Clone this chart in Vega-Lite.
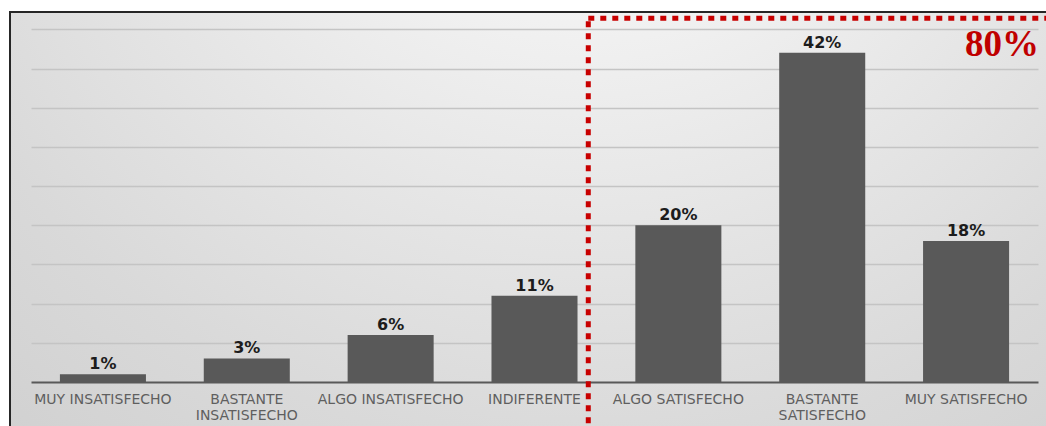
{
  "$schema": "https://vega.github.io/schema/vega-lite/v6.json",
  "width": 1049,
  "height": 440,
  "autosize": {"type": "none"},
  "padding": {"left": 10, "top": 12, "right": 0, "bottom": 0},
  "background": "white",
  "config": {
    "view": {
      "stroke": "#262626",
      "strokeWidth": 2,
      "fill": {
        "gradient": "radial",
        "x1": 0.55, "y1": 0.03, "r1": 0,
        "x2": 0.55, "y2": 0.03, "r2": 0.95,
        "stops": [
          {"offset": 0, "color": "#fcfcfc"},
          {"offset": 0.25, "color": "#f3f3f3"},
          {"offset": 0.5, "color": "#e5e5e5"},
          {"offset": 0.72, "color": "#d9d9d9"},
          {"offset": 1, "color": "#cdcdcd"}
        ]
      }
    }
  },
  "data": {
    "values": [
      {"cat": "MUY INSATISFECHO", "pct": 1, "lbl": "1%"},
      {"cat": "BASTANTE INSATISFECHO", "pct": 3, "lbl": "3%"},
      {"cat": "ALGO INSATISFECHO", "pct": 6, "lbl": "6%"},
      {"cat": "INDIFERENTE", "pct": 11, "lbl": "11%"},
      {"cat": "ALGO SATISFECHO", "pct": 20, "lbl": "20%"},
      {"cat": "BASTANTE SATISFECHO", "pct": 42, "lbl": "42%"},
      {"cat": "MUY SATISFECHO", "pct": 18, "lbl": "18%"}
    ]
  },
  "encoding": {
    "x": {
      "field": "cat",
      "type": "nominal",
      "sort": null,
      "scale": {
        "domain": ["MUY INSATISFECHO", "BASTANTE INSATISFECHO", "ALGO INSATISFECHO", "INDIFERENTE", "ALGO SATISFECHO", "BASTANTE SATISFECHO", "MUY SATISFECHO"],
        "range": [21, 1028],
        "paddingInner": 0.402,
        "paddingOuter": 0.201
      },
      "axis": {
        "title": null,
        "offset": -70,
        "domainColor": "#595959",
        "domainWidth": 2,
        "ticks": false,
        "labelAngle": 0,
        "labelPadding": 10,
        "labelFont": "DejaVu Sans",
        "labelFontSize": 14,
        "labelColor": "#5f5f5f",
        "labelLineHeight": 16,
        "labelLimit": 0,
        "labelExpr": "indexof(datum.label, 'BASTANTE') == 0 ? split(datum.label, ' ') : datum.label"
      }
    }
  },
  "layer": [
    {
      "mark": {"type": "bar", "color": "#595959"},
      "encoding": {
        "y": {
          "field": "pct",
          "type": "quantitative",
          "scale": {"domain": [-8.93, 47.21], "nice": false, "zero": false},
          "axis": {
            "title": null,
            "values": [5, 10, 15, 20, 25, 30, 35, 40, 45],
            "grid": true,
            "gridColor": "#c4c4c4",
            "gridWidth": 1.5,
            "labels": false,
            "ticks": false,
            "domain": false
          }
        }
      }
    },
    {
      "mark": {"type": "text", "dy": -5, "baseline": "alphabetic", "font": "DejaVu Sans", "fontWeight": "bold", "fontSize": 16, "color": "#1c1c1c"},
      "encoding": {
        "y": {"field": "pct", "type": "quantitative"},
        "text": {"field": "lbl"}
      }
    },
    {
      "data": {"values": [{"cat": "ALGO SATISFECHO"}]},
      "mark": {"type": "rect", "fill": "transparent", "stroke": "#c80000", "strokeWidth": 5, "strokeDash": [6, 6], "strokeCap": "butt"},
      "encoding": {
        "x": {"field": "cat", "type": "nominal", "bandPosition": -0.547},
        "x2": {"value": "width"},
        "y": {"datum": 46.41},
        "y2": {"value": "height"}
      }
    },
    {
      "data": {"values": [{"cat": "MUY SATISFECHO", "lbl": "80%"}]},
      "mark": {"type": "text", "align": "right", "baseline": "alphabetic", "font": "Liberation Serif", "fontWeight": "bold", "fontSize": 37, "color": "#c00000"},
      "encoding": {
        "x": {"field": "cat", "type": "nominal", "bandPosition": 1.349},
        "y": {"datum": 41.6},
        "text": {"field": "lbl"}
      }
    }
  ]
}
